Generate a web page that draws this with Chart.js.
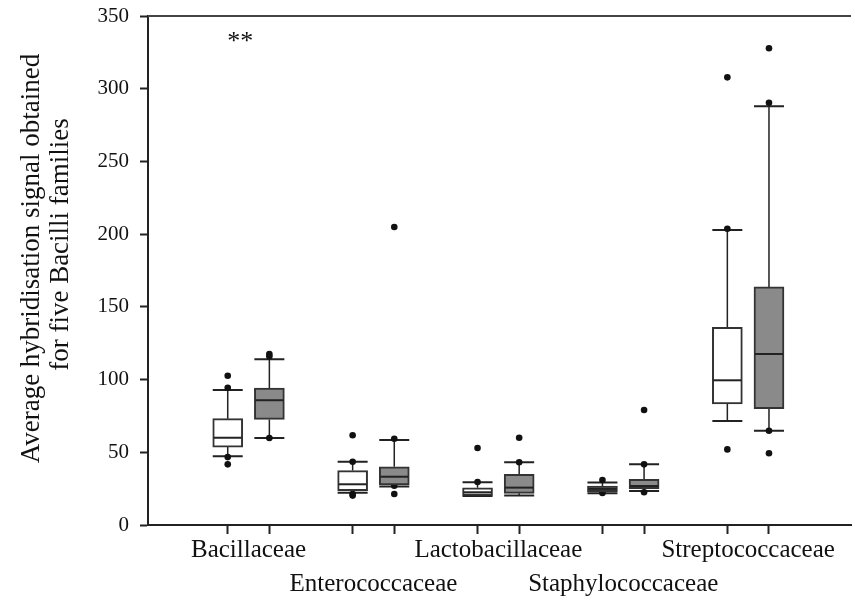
<!DOCTYPE html>
<html>
<head>
<meta charset="utf-8">
<script src="https://cdn.jsdelivr.net/npm/chart.js@4.4.0/dist/chart.umd.min.js"></script>
<style>
  html, body { margin: 0; padding: 0; background: #fff; }
  canvas { display: block; }
</style>
</head>
<body>
<canvas id="chart" width="855" height="605"></canvas>
<script>
// Bacilli families, two boxes (white / grey) per family
const families = ['Bacillaceae', 'Enterococcaceae', 'Lactobacillaceae', 'Staphylococcaceae', 'Streptococcaceae'];
const yTicks = [0, 50, 100, 150, 200, 250, 300, 350];
const yTitle = ['Average hybridisation signal obtained', 'for five Bacilli families'];

// white boxes
const whiteLow = [47.2, 22.2, 19.9, 21.8, 71.5];
const whiteQ1 = [53.6, 23.6, 20.4, 22.9, 83.2];
const whiteMedian = [60.0, 28.0, 22.5, 24.8, 99.5];
const whiteQ3 = [73.1, 37.4, 25.6, 26.8, 135.9];
const whiteHigh = [92.8, 43.5, 29.4, 29.3, 202.8];
const whiteDots = [[102.6, 94.4, 46.7, 41.7], [61.7, 43.5, 21.3, 20.2], [52.9, 29.6], [30.9, 22.0], [307.8, 203.7, 52.0]];

// grey boxes
const greyLow = [59.8, 26.5, 20.2, 23.4, 64.8];
const greyQ1 = [72.6, 27.5, 21.8, 25.0, 80.0];
const greyMedian = [85.8, 33.2, 25.7, 26.8, 117.6];
const greyQ3 = [94.2, 40.0, 34.9, 31.4, 163.7];
const greyHigh = [113.9, 58.4, 43.1, 41.7, 288.0];
const greyDots = [[117.6, 116.0, 59.8], [204.9, 59.3, 27.0, 21.3], [60.0, 43.1], [79.1, 41.7, 22.5], [327.8, 290.4, 64.8, 49.3]];

const serif = "'Liberation Serif', 'Times New Roman', serif";

// slot on the x axis: 3 units per family, white then grey
function slot(i, s) { return i * 3 + 1 + s; }

const boxTicks = [];
const labelTicks = [];
families.forEach((f, i) => {
  boxTicks.push(slot(i, 0), slot(i, 1));
  labelTicks.push(slot(i, 0.5));
});

const dots = [];
families.forEach((f, i) => {
  whiteDots[i].forEach(v => dots.push({x: slot(i, 0), y: v}));
  greyDots[i].forEach(v => dots.push({x: slot(i, 1), y: v}));
});

const boxParts = {
  id: 'boxParts',
  beforeDatasetsDraw(chart) {
    const ctx = chart.ctx;
    const y = chart.scales.y;
    ctx.save();
    ctx.strokeStyle = '#222';
    chart.data.datasets.forEach((ds, di) => {
      if (!ds.stats) return;
      chart.getDatasetMeta(di).data.forEach((bar, i) => {
        const half = bar.width / 2;
        const lo = y.getPixelForValue(ds.stats.low[i]);
        const hi = y.getPixelForValue(ds.stats.high[i]);
        const q1 = y.getPixelForValue(ds.stats.q1[i]);
        const q3 = y.getPixelForValue(ds.stats.q3[i]);
        ctx.lineWidth = 1.5;
        ctx.beginPath();
        ctx.moveTo(bar.x, q3); ctx.lineTo(bar.x, hi);
        ctx.moveTo(bar.x, q1); ctx.lineTo(bar.x, lo);
        ctx.stroke();
        ctx.lineWidth = 2;
        ctx.beginPath();
        ctx.moveTo(bar.x - half, hi); ctx.lineTo(bar.x + half, hi);
        ctx.moveTo(bar.x - half, lo); ctx.lineTo(bar.x + half, lo);
        ctx.stroke();
      });
    });
    ctx.restore();
  },
  afterDatasetsDraw(chart) {
    const ctx = chart.ctx;
    const {x, y} = chart.scales;
    const area = chart.chartArea;
    ctx.save();
    ctx.strokeStyle = '#222';
    ctx.lineWidth = 2;
    chart.data.datasets.forEach((ds, di) => {
      if (!ds.stats) return;
      chart.getDatasetMeta(di).data.forEach((bar, i) => {
        const half = bar.width / 2 - 1;
        const m = y.getPixelForValue(ds.stats.median[i]);
        ctx.beginPath();
        ctx.moveTo(bar.x - half, m); ctx.lineTo(bar.x + half, m);
        ctx.stroke();
      });
    });
    // frame line on top
    ctx.strokeStyle = '#444';
    ctx.beginPath();
    ctx.moveTo(area.left, area.top); ctx.lineTo(area.right, area.top);
    ctx.stroke();
    // significance mark
    ctx.fillStyle = '#111';
    ctx.font = '26px ' + serif;
    ctx.textAlign = 'center';
    ctx.textBaseline = 'middle';
    ctx.fillText('**', x.getPixelForValue(1.3), y.getPixelForValue(332));
    // y axis title, two rotated lines
    const cy = (area.top + area.bottom) / 2;
    ctx.font = '27px ' + serif;
    ctx.translate(32, cy - 12);
    ctx.rotate(-Math.PI / 2);
    ctx.fillText(yTitle[0], 0, 0);
    ctx.fillText(yTitle[1], 14, 29);
    ctx.restore();
  }
};

new Chart(document.getElementById('chart'), {
  type: 'bar',
  data: {
    datasets: [
      {
        label: 'white',
        data: families.map((f, i) => ({x: slot(i, 0), y: [whiteQ1[i], whiteQ3[i]]})),
        stats: {low: whiteLow, q1: whiteQ1, median: whiteMedian, q3: whiteQ3, high: whiteHigh},
        backgroundColor: ['#fff', '#fff', '#fff', '#8a8a8a', '#fff'],
        borderColor: '#333',
        borderWidth: 2,
        borderSkipped: false,
        barThickness: 30,
        grouped: false
      },
      {
        label: 'grey',
        data: families.map((f, i) => ({x: slot(i, 1), y: [greyQ1[i], greyQ3[i]]})),
        stats: {low: greyLow, q1: greyQ1, median: greyMedian, q3: greyQ3, high: greyHigh},
        backgroundColor: '#8a8a8a',
        borderColor: '#333',
        borderWidth: 2,
        borderSkipped: false,
        barThickness: 30,
        grouped: false
      },
      {
        type: 'scatter',
        label: 'dots',
        data: dots,
        pointRadius: 3.3,
        pointBackgroundColor: '#111',
        pointBorderWidth: 0
      }
    ]
  },
  options: {
    responsive: false,
    animation: false,
    layout: { padding: { top: 16, right: 1, left: 0, bottom: 0 } },
    plugins: { legend: { display: false }, tooltip: { enabled: false } },
    scales: {
      x: {
        type: 'linear',
        offset: false,
        min: -0.915,
        max: 15.97,
        afterBuildTicks: scale => {
          scale.ticks = boxTicks.concat(labelTicks).sort((a, b) => a - b).map(v => ({value: v}));
        },
        afterFit: scale => { scale.height = 80; scale.paddingLeft = 0; scale.paddingRight = 0; },
        grid: {
          offset: false,
          drawOnChartArea: false,
          tickLength: 9,
          tickWidth: 2,
          tickColor: c => (c.tick && c.tick.value % 1 === 0) ? '#222' : 'rgba(0,0,0,0)'
        },
        border: { color: '#222', width: 2 },
        ticks: {
          autoSkip: false,
          maxRotation: 0,
          padding: 0,
          color: '#111',
          font: { family: serif, size: 25, lineHeight: 1.35 },
          callback: v => {
            const k = labelTicks.indexOf(v);
            if (k < 0) return '';
            return k % 2 === 0 ? [families[k]] : ['', families[k]];
          }
        }
      },
      y: {
        min: 0,
        max: 350,
        afterBuildTicks: scale => { scale.ticks = yTicks.map(v => ({value: v})); },
        afterFit: scale => { scale.width = 148; scale.paddingTop = 0; scale.paddingBottom = 0; },
        grid: { drawOnChartArea: false, tickLength: 8, tickWidth: 2, color: '#222' },
        border: { color: '#222', width: 2 },
        ticks: {
          padding: 11,
          color: '#111',
          font: { family: serif, size: 21 }
        }
      }
    }
  },
  plugins: [boxParts]
});
</script>
</body>
</html>
